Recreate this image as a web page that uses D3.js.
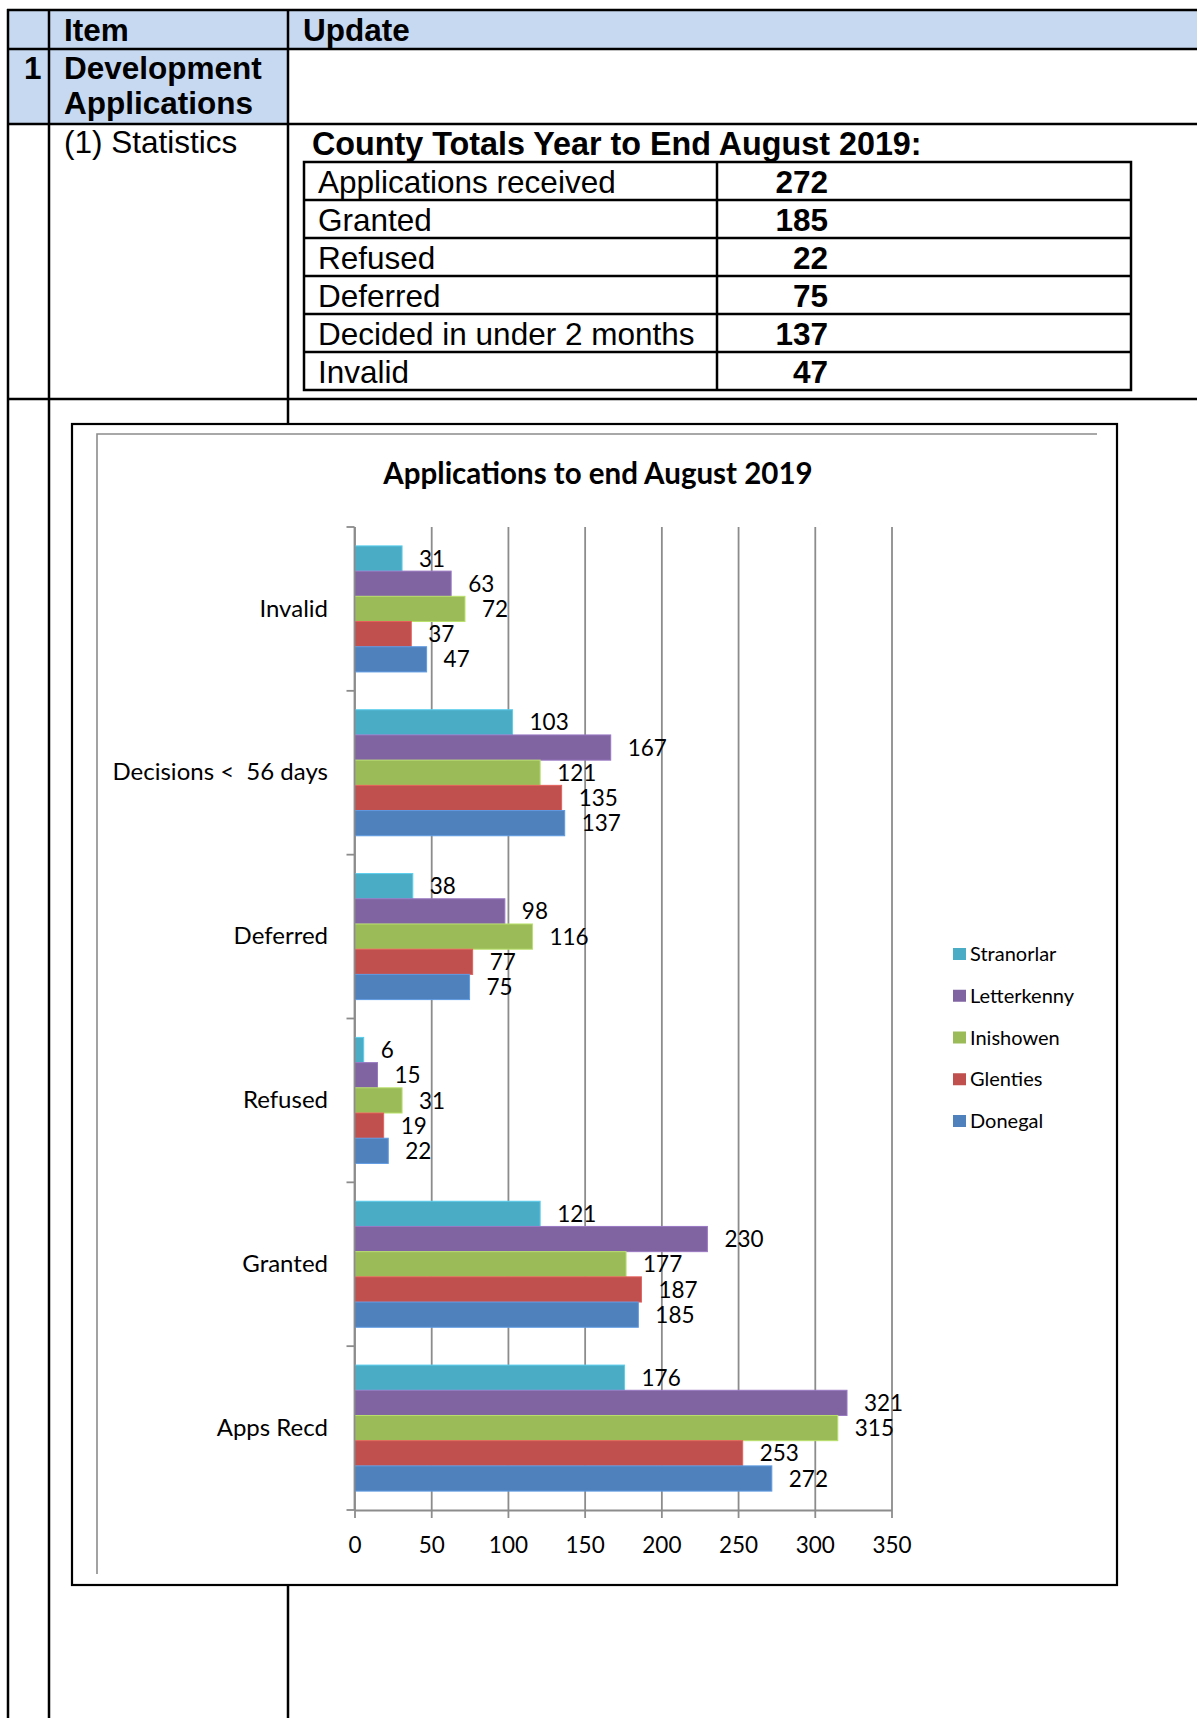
<!DOCTYPE html>
<html lang="en">
<head>
<meta charset="UTF-8">
<title>Applications to end August 2019</title>
<script src="https://cdn.jsdelivr.net/npm/d3@7"></script>
<style>
  body { margin: 0; background: #fff; }
  svg { display: block; }
  .doc text { font-family: "Liberation Sans", Arial, sans-serif; fill: #000; }
  .chart text { font-family: Lato, "Open Sans", sans-serif; fill: #000; }
</style>
</head>
<body>
<div id="page"></div>
<script>
// county totals table
var totalLabels = ["Applications received", "Granted", "Refused", "Deferred", "Decided in under 2 months", "Invalid"];
var totalValues = [272, 185, 22, 75, 137, 47];

// chart data, listed top to bottom as drawn
var categories = ["Invalid", "Decisions <  56 days", "Deferred", "Refused", "Granted", "Apps Recd"];
var areas = ["Stranorlar", "Letterkenny", "Inishowen", "Glenties", "Donegal"];
var stranorlar = [31, 103, 38, 6, 121, 176];
var letterkenny = [63, 167, 98, 15, 230, 321];
var inishowen = [72, 121, 116, 31, 177, 315];
var glenties = [37, 135, 77, 19, 187, 253];
var donegal = [47, 137, 75, 22, 185, 272];
var xTicks = [0, 50, 100, 150, 200, 250, 300, 350];
var colors = ["#4bacc6", "#8064a2", "#9bbb59", "#c0504d", "#4f81bd"];

var W = 1197, H = 1718;
var svg = d3.select("#page").append("svg").attr("width", W).attr("height", H);

// ---- document table ----
var doc = svg.append("g").attr("class", "doc");
var blue = "#c6d9f1";
doc.append("rect").attr("x", 8).attr("y", 10).attr("width", W - 8).attr("height", 39).attr("fill", blue);
doc.append("rect").attr("x", 8).attr("y", 49).attr("width", 280).attr("height", 75).attr("fill", blue);

[10, 49, 124, 399].forEach(function(yy) {
    doc.append("line").attr("x1", 7).attr("x2", W).attr("y1", yy).attr("y2", yy)
        .attr("stroke", "#000").attr("stroke-width", 2.5);
});
[8, 49, 288].forEach(function(xx) {
    doc.append("line").attr("x1", xx).attr("x2", xx).attr("y1", 9).attr("y2", H)
        .attr("stroke", "#000").attr("stroke-width", 2.5);
});

function docText(x, y, s, bold, anchor) {
    return doc.append("text")
        .attr("x", x).attr("y", y)
        .attr("text-anchor", anchor || "start")
        .attr("font-size", 31.5)
        .attr("font-weight", bold ? "bold" : "normal")
        .text(s);
}

docText(64, 41, "Item", true);
docText(303, 41, "Update", true);
docText(24, 79, "1", true);
docText(64, 79, "Development", true);
docText(64, 114, "Applications", true);
docText(64, 153, "(1) Statistics", false);
docText(312, 155, "County Totals Year to End August 2019:", true).attr("font-size", 32.3);

var rowY = d3.scaleBand().domain(totalLabels).range([162, 390]);
doc.append("rect").attr("x", 304).attr("y", 162).attr("width", 827).attr("height", 228)
    .attr("fill", "none").attr("stroke", "#000").attr("stroke-width", 2.5);
doc.append("line").attr("x1", 717).attr("x2", 717).attr("y1", 162).attr("y2", 390)
    .attr("stroke", "#000").attr("stroke-width", 2.5);
totalLabels.forEach(function(lab, i) {
    var top = rowY(lab);
    if (i > 0) {
        doc.append("line").attr("x1", 304).attr("x2", 1131).attr("y1", top).attr("y2", top)
            .attr("stroke", "#000").attr("stroke-width", 2.5);
    }
    docText(318, top + 31, lab, false);
    docText(828, top + 31, totalValues[i], true, "end");
});

// ---- chart ----
var chart = svg.append("g").attr("class", "chart");
chart.append("rect").attr("x", 72).attr("y", 424).attr("width", 1045).attr("height", 1161)
    .attr("fill", "#fff").attr("stroke", "#000").attr("stroke-width", 2.2);
chart.append("path").attr("d", "M97,1574V434H1097").attr("fill", "none")
    .attr("stroke", "#8c8c8c").attr("stroke-width", 1.6);

chart.append("text")
    .attr("x", 598).attr("y", 484)
    .attr("text-anchor", "middle")
    .attr("font-size", 29.5).attr("font-weight", "bold")
    .text("Applications to end August 2019");

var x = d3.scaleLinear().domain([0, 350]).range([354.5, 891.5]);
var y = d3.scaleBand().domain(categories).range([527, 1510])
    .paddingInner(0.2308).paddingOuter(0.1154);
var ys = d3.scaleBand().domain(areas).range([0, y.bandwidth()]);
var gridColor = "#8c8c8c";

// vertical gridlines
var grid = chart.append("g").attr("transform", "translate(0,1510)")
    .call(d3.axisBottom(x).tickValues(xTicks).tickSize(-983).tickFormat(""));
grid.select(".domain").remove();
grid.selectAll("line").attr("stroke", gridColor).attr("stroke-width", 1.8);

// bars
var seriesValues = [stranorlar, letterkenny, inishowen, glenties, donegal];
var rows = [];
areas.forEach(function(a, i) {
    categories.forEach(function(c, j) {
        rows.push({ area: a, cat: c, value: seriesValues[i][j], color: colors[i] });
    });
});

chart.append("g").selectAll("rect").data(rows).enter().append("rect")
    .attr("x", x(0))
    .attr("y", function(d) { return y(d.cat) + ys(d.area); })
    .attr("width", function(d) { return x(d.value) - x(0); })
    .attr("height", ys.bandwidth())
    .attr("fill", function(d) { return d.color; })
    .attr("stroke", function(d) { return d3.color(d.color).brighter(0.5); })
    .attr("stroke-width", 1);

chart.append("g").selectAll("text").data(rows).enter().append("text")
    .attr("x", function(d) { return x(d.value) + 17; })
    .attr("y", function(d) { return y(d.cat) + ys(d.area) + ys.bandwidth() / 2; })
    .attr("dy", "0.36em")
    .attr("font-size", 22.5)
    .text(function(d) { return d.value; });

// x axis
var xAxis = chart.append("g").attr("transform", "translate(0,1510)")
    .call(d3.axisBottom(x).tickValues(xTicks).tickSizeInner(8).tickSizeOuter(0).tickPadding(19));
xAxis.select(".domain").attr("stroke", gridColor).attr("stroke-width", 1.8);
xAxis.selectAll("line").attr("stroke", gridColor).attr("stroke-width", 1.8);
xAxis.selectAll("text").attr("font-family", null).attr("font-size", 22.5).attr("fill", "#000");

// y axis: line, boundary ticks, labels
chart.append("line").attr("x1", x(0)).attr("x2", x(0)).attr("y1", 527).attr("y2", 1510)
    .attr("stroke", gridColor).attr("stroke-width", 1.8);
var gap = (y.step() - y.bandwidth()) / 2;
var bounds = categories.map(function(c) { return y(c) - gap; }).concat([y.range()[1]]);
chart.append("g").selectAll("line").data(bounds).enter().append("line")
    .attr("x1", x(0) - 8).attr("x2", x(0))
    .attr("y1", function(d) { return d; }).attr("y2", function(d) { return d; })
    .attr("stroke", gridColor).attr("stroke-width", 1.8);

var yAxis = chart.append("g").attr("transform", "translate(" + x(0) + ",0)")
    .call(d3.axisLeft(y).tickSize(0).tickPadding(26.5));
yAxis.select(".domain").remove();
yAxis.selectAll("text").attr("font-family", null).attr("font-size", 24).attr("fill", "#000")
    .style("white-space", "pre");

// legend
var ly = d3.scalePoint().domain(areas).range([954, 1121]);
var legend = chart.append("g").selectAll("g").data(areas).enter().append("g")
    .attr("transform", function(d) { return "translate(953," + ly(d) + ")"; });
legend.append("rect").attr("x", 0).attr("y", -6).attr("width", 13).attr("height", 12)
    .attr("fill", function(d, i) { return colors[i]; });
legend.append("text").attr("x", 17).attr("dy", "0.36em").attr("font-size", 20)
    .text(function(d) { return d; });
</script>
</body>
</html>
